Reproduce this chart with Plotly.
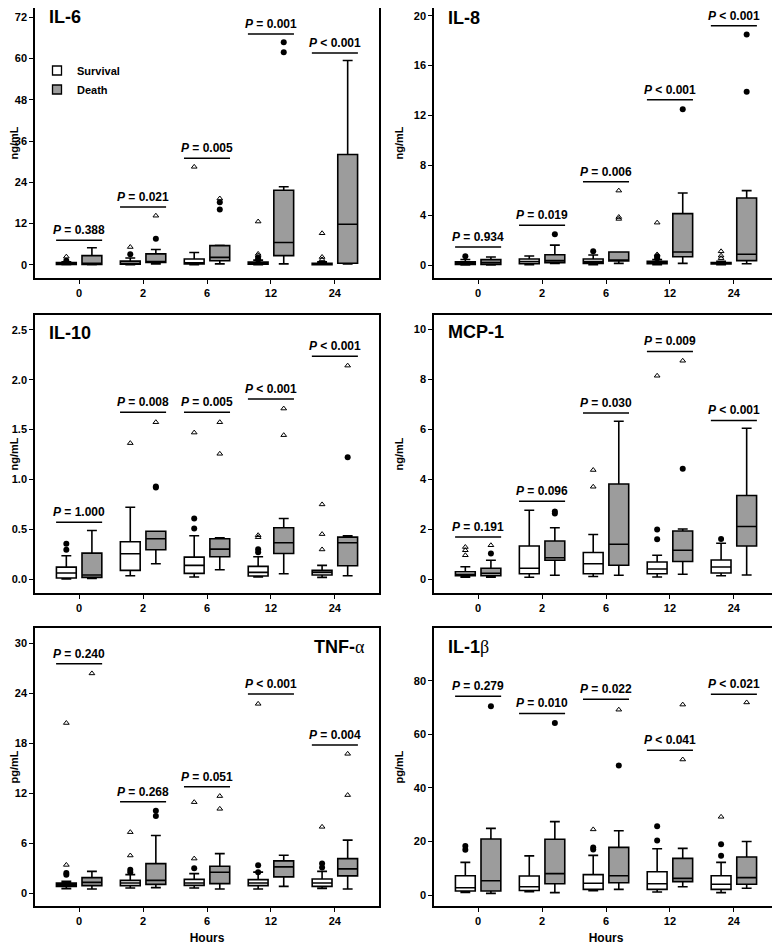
import plotly.graph_objects as go

HOURS = ["0", "2", "6", "12", "24"]

# ---------------- IL-6 (ng/mL) ----------------
IL6_S_LO = [0.05, 0.05, 0.1, 0.1, 0.05]
IL6_S_Q1 = [0.15, 0.2, 0.3, 0.2, 0.1]
IL6_S_MED = [0.35, 0.5, 0.6, 0.45, 0.25]
IL6_S_Q3 = [0.7, 1.1, 1.7, 0.8, 0.5]
IL6_S_HI = [0.9, 2.0, 3.6, 1.4, 0.9]
IL6_D_LO = [0.05, 0.3, 0.3, 0.3, 0.3]
IL6_D_Q1 = [0.15, 0.7, 1.2, 2.7, 0.5]
IL6_D_MED = [0.5, 1.0, 2.2, 6.5, 11.8]
IL6_D_Q3 = [2.7, 3.2, 5.6, 21.7, 32.1]
IL6_D_HI = [5.0, 4.5, 5.7, 22.7, 59.4]
IL6_S_CIRC = [[1.2], [3.1], [], [1.5, 2.0], []]
IL6_S_TRI = [[2.4], [5.2], [28.5], [2.7, 3.2, 12.6], [1.6, 2.3, 9.2]]
IL6_D_CIRC = [[], [7.6], [16.1, 18.2], [61.8, 64.7], []]
IL6_D_TRI = [[], [14.3], [19.3], [], []]
IL6_P_Y = [7.2, 16.8, 31.0, 67.1, 61.6]
IL6_P_TXT = ["= 0.388", "= 0.021", "= 0.005", "= 0.001", "< 0.001"]

# ---------------- IL-8 (ng/mL) ----------------
IL8_S_LO = [0.0, 0.02, 0.02, 0.03, 0.03]
IL8_S_Q1 = [0.05, 0.1, 0.13, 0.1, 0.08]
IL8_S_MED = [0.15, 0.27, 0.27, 0.18, 0.14]
IL8_S_Q3 = [0.25, 0.48, 0.48, 0.3, 0.2]
IL8_S_HI = [0.45, 0.72, 0.8, 0.45, 0.3]
IL8_D_LO = [0.0, 0.12, 0.13, 0.13, 0.1]
IL8_D_Q1 = [0.05, 0.19, 0.32, 0.67, 0.35]
IL8_D_MED = [0.2, 0.35, 0.4, 1.04, 0.86]
IL8_D_Q3 = [0.43, 0.83, 1.04, 4.12, 5.38]
IL8_D_HI = [0.64, 1.6, 1.05, 5.78, 5.97]
IL8_S_CIRC = [[0.7], [], [1.1], [0.55, 0.7], []]
IL8_S_TRI = [[], [], [], [0.85, 3.4], [0.55, 0.75, 1.1]]
IL8_D_CIRC = [[], [2.46], [], [12.5], [13.9, 18.5]]
IL8_D_TRI = [[], [], [3.7, 3.85, 5.97], [], []]
IL8_P_Y = [1.45, 3.19, 6.69, 13.25, 19.2]
IL8_P_TXT = ["= 0.934", "= 0.019", "= 0.006", "< 0.001", "< 0.001"]

# ---------------- IL-10 (ng/mL) ----------------
IL10_S_LO = [0.0, 0.033, 0.02, 0.02, 0.017]
IL10_S_Q1 = [0.01, 0.087, 0.057, 0.03, 0.04]
IL10_S_MED = [0.06, 0.254, 0.137, 0.067, 0.067]
IL10_S_Q3 = [0.12, 0.374, 0.22, 0.127, 0.087]
IL10_S_HI = [0.234, 0.72, 0.434, 0.224, 0.137]
IL10_D_LO = [0.007, 0.154, 0.094, 0.053, 0.033]
IL10_D_Q1 = [0.017, 0.294, 0.224, 0.257, 0.134]
IL10_D_MED = [0.04, 0.404, 0.3, 0.364, 0.364]
IL10_D_Q3 = [0.26, 0.48, 0.404, 0.515, 0.421]
IL10_D_HI = [0.488, 0.48, 0.414, 0.608, 0.434]
IL10_S_CIRC = [[0.294, 0.354], [], [0.508, 0.608], [0.27, 0.3], []]
IL10_S_TRI = [[], [1.364], [1.47], [0.42, 0.44], [0.297, 0.451, 0.749]]
IL10_D_CIRC = [[], [0.92, 0.93], [], [], [1.223]]
IL10_D_TRI = [[], [1.574], [1.257, 1.574], [1.444, 1.711], [2.142]]
IL10_P_Y = [0.571, 1.674, 1.674, 1.808, 2.236]
IL10_P_TXT = ["= 1.000", "= 0.008", "= 0.005", "< 0.001", "< 0.001"]

# ---------------- MCP-1 (ng/mL) ----------------
MCP_S_LO = [0.07, 0.07, 0.1, 0.08, 0.13]
MCP_S_Q1 = [0.13, 0.21, 0.21, 0.21, 0.24]
MCP_S_MED = [0.19, 0.43, 0.61, 0.4, 0.48]
MCP_S_Q3 = [0.29, 1.32, 1.06, 0.68, 0.76]
MCP_S_HI = [0.49, 2.75, 1.78, 0.95, 1.43]
MCP_D_LO = [0.07, 0.15, 0.15, 0.19, 0.16]
MCP_D_Q1 = [0.13, 0.75, 0.55, 0.7, 1.32]
MCP_D_MED = [0.23, 0.85, 1.39, 1.15, 2.1]
MCP_D_Q3 = [0.43, 1.52, 3.8, 1.92, 3.34]
MCP_D_HI = [0.75, 2.05, 6.31, 2.0, 6.03]
MCP_S_CIRC = [[], [], [], [1.59, 1.98], [1.6]]
MCP_S_TRI = [[0.95, 1.15, 1.28], [], [3.69, 4.36], [8.13], []]
MCP_D_CIRC = [[1.02], [2.62, 2.7], [], [4.41], []]
MCP_D_TRI = [[1.35], [], [], [8.73], []]
MCP_P_Y = [1.68, 3.11, 6.64, 9.1, 6.34]
MCP_P_TXT = ["= 0.191", "= 0.096", "= 0.030", "= 0.009", "< 0.001"]

# ---------------- TNF-alpha (pg/mL) ----------------
TNF_S_LO = [0.52, 0.6, 0.6, 0.48, 0.56]
TNF_S_Q1 = [0.8, 0.88, 0.92, 0.88, 0.8]
TNF_S_MED = [1.0, 1.2, 1.2, 1.2, 1.2]
TNF_S_Q3 = [1.2, 1.52, 1.64, 1.6, 1.68]
TNF_S_HI = [1.4, 2.2, 2.33, 2.5, 2.6]
TNF_D_LO = [0.48, 0.64, 0.48, 0.8, 0.48]
TNF_D_Q1 = [0.88, 1.04, 1.12, 1.93, 2.05]
TNF_D_MED = [1.28, 1.52, 2.49, 3.13, 2.89]
TNF_D_Q3 = [1.85, 3.53, 3.21, 3.85, 4.13]
TNF_D_HI = [2.6, 6.9, 4.73, 4.53, 6.34]
TNF_S_CIRC = [[2.2, 2.4], [2.5, 2.8], [2.97], [2.5, 3.33], [3.05, 3.53]]
TNF_S_TRI = [[3.37, 20.4], [4.5, 7.3], [4.13, 10.9], [22.7], [7.94]]
TNF_D_CIRC = [[], [9.23, 9.87], [], [], []]
TNF_D_TRI = [[26.35], [], [10.1, 11.63], [], [11.75, 16.7]]
TNF_P_Y = [27.5, 10.95, 12.76, 23.87, 17.77]
TNF_P_TXT = ["= 0.240", "= 0.268", "= 0.051", "< 0.001", "= 0.004"]

# ---------------- IL-1beta (pg/mL) ----------------
IL1B_S_LO = [1.0, 1.2, 1.6, 1.1, 0.9]
IL1B_S_Q1 = [1.5, 1.7, 2.1, 2.1, 2.1]
IL1B_S_MED = [2.7, 3.1, 4.4, 4.2, 4.0]
IL1B_S_Q3 = [7.2, 7.1, 7.6, 8.7, 7.2]
IL1B_S_HI = [12.2, 14.6, 14.8, 17.3, 12.2]
IL1B_D_LO = [0.6, 0.9, 2.1, 3.1, 2.5]
IL1B_D_Q1 = [1.5, 4.2, 4.6, 5.0, 4.0]
IL1B_D_MED = [5.3, 8.0, 7.2, 6.2, 6.5]
IL1B_D_Q3 = [20.9, 20.8, 17.8, 13.7, 14.2]
IL1B_D_HI = [24.9, 27.4, 24.0, 17.4, 20.0]
IL1B_S_CIRC = [[16.9, 18.3], [], [17.0, 17.7], [20.4, 25.7], [14.7, 19.0]]
IL1B_S_TRI = [[], [], [24.5], [], [29.2]]
IL1B_D_CIRC = [[70.5], [64.2], [48.4], [], []]
IL1B_D_TRI = [[], [], [69.2], [50.6, 71.1], [71.9]]
IL1B_P_Y = [74.25, 67.8, 73.1, 54.1, 75.0]
IL1B_P_TXT = ["= 0.279", "= 0.010", "= 0.022", "< 0.041", "< 0.021"]

# tick values per panel
IL6_TICKS = [0, 12, 24, 36, 48, 60, 72]
IL8_TICKS = [0, 4, 8, 12, 16, 20]
IL10_TICKS = [0.0, 0.5, 1.0, 1.5, 2.0, 2.5]
MCP_TICKS = [0, 2, 4, 6, 8, 10]
TNF_TICKS = [0, 6, 12, 18, 24, 30]
IL1B_TICKS = [0, 20, 40, 60, 80]

FONT = "Liberation Sans, Arial, Helvetica, sans-serif"
GRAY = "#9c9c9c"
OFF = 0.2      # half distance between the two boxes of a time point
BOXW = 0.31

panels = [
    dict(name="IL-6", unit="ng/mL", ticks=IL6_TICKS, rng=[-3.8, 76.4], fmt="",
         s=[IL6_S_LO, IL6_S_Q1, IL6_S_MED, IL6_S_Q3, IL6_S_HI],
         d=[IL6_D_LO, IL6_D_Q1, IL6_D_MED, IL6_D_Q3, IL6_D_HI],
         sc=IL6_S_CIRC, st=IL6_S_TRI, dc=IL6_D_CIRC, dt=IL6_D_TRI,
         py=IL6_P_Y, pt=IL6_P_TXT, dom=([35, 379], [2, 278]), tpos="left", tdy=15),
    dict(name="IL-8", unit="ng/mL", ticks=IL8_TICKS, rng=[-1.04, 21.1], fmt="",
         s=[IL8_S_LO, IL8_S_Q1, IL8_S_MED, IL8_S_Q3, IL8_S_HI],
         d=[IL8_D_LO, IL8_D_Q1, IL8_D_MED, IL8_D_Q3, IL8_D_HI],
         sc=IL8_S_CIRC, st=IL8_S_TRI, dc=IL8_D_CIRC, dt=IL8_D_TRI,
         py=IL8_P_Y, pt=IL8_P_TXT, dom=([434, 778], [2, 278]), tpos="left", tdy=16),
    dict(name="IL-10", unit="ng/mL", ticks=IL10_TICKS, rng=[-0.14, 2.65], fmt=".1f",
         s=[IL10_S_LO, IL10_S_Q1, IL10_S_MED, IL10_S_Q3, IL10_S_HI],
         d=[IL10_D_LO, IL10_D_Q1, IL10_D_MED, IL10_D_Q3, IL10_D_HI],
         sc=IL10_S_CIRC, st=IL10_S_TRI, dc=IL10_D_CIRC, dt=IL10_D_TRI,
         py=IL10_P_Y, pt=IL10_P_TXT, dom=([35, 379], [315, 593]), tpos="left", tdy=18),
    dict(name="MCP-1", unit="ng/mL", ticks=MCP_TICKS, rng=[-0.56, 10.56], fmt="",
         s=[MCP_S_LO, MCP_S_Q1, MCP_S_MED, MCP_S_Q3, MCP_S_HI],
         d=[MCP_D_LO, MCP_D_Q1, MCP_D_MED, MCP_D_Q3, MCP_D_HI],
         sc=MCP_S_CIRC, st=MCP_S_TRI, dc=MCP_D_CIRC, dt=MCP_D_TRI,
         py=MCP_P_Y, pt=MCP_P_TXT, dom=([434, 778], [315, 593]), tpos="left", tdy=17),
    dict(name="TNF-<span style='font-family:Liberation Serif;font-weight:normal'>α</span>",
         unit="pg/mL", ticks=TNF_TICKS, rng=[-1.56, 31.8], fmt="",
         s=[TNF_S_LO, TNF_S_Q1, TNF_S_MED, TNF_S_Q3, TNF_S_HI],
         d=[TNF_D_LO, TNF_D_Q1, TNF_D_MED, TNF_D_Q3, TNF_D_HI],
         sc=TNF_S_CIRC, st=TNF_S_TRI, dc=TNF_D_CIRC, dt=TNF_D_TRI,
         py=TNF_P_Y, pt=TNF_P_TXT, dom=([35, 379], [628, 906]), tpos="right", tdy=19),
    dict(name="IL-1<span style='font-family:Liberation Serif;font-weight:normal'>β</span>",
         unit="pg/mL", ticks=IL1B_TICKS, rng=[-4.1, 99.7], fmt="",
         s=[IL1B_S_LO, IL1B_S_Q1, IL1B_S_MED, IL1B_S_Q3, IL1B_S_HI],
         d=[IL1B_D_LO, IL1B_D_Q1, IL1B_D_MED, IL1B_D_Q3, IL1B_D_HI],
         sc=IL1B_S_CIRC, st=IL1B_S_TRI, dc=IL1B_D_CIRC, dt=IL1B_D_TRI,
         py=IL1B_P_Y, pt=IL1B_P_TXT, dom=([434, 778], [628, 906]), tpos="left", tdy=19),
]

# The page body has an 8px default margin, so the figure is offset by it.
PAGE_OFF = 8
W, H = 780 - PAGE_OFF, 945 - PAGE_OFF
fig = go.Figure()
annotations = []
shapes = []
layout = {}

for k, p in enumerate(panels, start=1):
    xa = "x" if k == 1 else f"x{k}"
    ya = "y" if k == 1 else f"y{k}"
    idx = list(range(len(HOURS)))
    for grp, vals, fill, sgn, circ, tri in (
        ("Survival", p["s"], "white", -1, p["sc"], p["st"]),
        ("Death", p["d"], GRAY, 1, p["dc"], p["dt"]),
    ):
        xs = [i + sgn * OFF for i in idx]
        lo, q1, med, q3, hi = vals
        fig.add_trace(go.Box(
            x=xs, q1=q1, median=med, q3=q3, lowerfence=lo, upperfence=hi,
            width=BOXW, fillcolor=fill, line=dict(color="black", width=1.6),
            whiskerwidth=0.5, boxpoints=False, showlegend=False, name=grp,
            xaxis=xa, yaxis=ya, hoverinfo="skip"))
        cx = [xs[i] for i in idx for _ in circ[i]]
        cy = [v for i in idx for v in circ[i]]
        if cy:
            fig.add_trace(go.Scatter(
                x=cx, y=cy, mode="markers", showlegend=False, xaxis=xa, yaxis=ya,
                marker=dict(symbol="circle", size=6, color="black"), hoverinfo="skip"))
        tx = [xs[i] for i in idx for _ in tri[i]]
        ty = [v for i in idx for v in tri[i]]
        if ty:
            fig.add_trace(go.Scatter(
                x=tx, y=ty, mode="markers", showlegend=False, xaxis=xa, yaxis=ya,
                marker=dict(symbol="triangle-up-open", size=5, color="black",
                            line=dict(width=1)), hoverinfo="skip"))

    (x0, x1), (y0, y1) = p["dom"]
    x0, x1, y0, y1 = x0 - PAGE_OFF, x1 - PAGE_OFF, y0 - PAGE_OFF, y1 - PAGE_OFF
    rlo, rhi = p["rng"]
    if y0 < 0:  # keep the value scale, clip the frame at the page top
        rhi = rlo + (rhi - rlo) * (y1 - 0) / (y1 - y0)
        y0 = 0
    ph = y1 - y0
    axis_common = dict(showline=True, mirror=True, linecolor="black", linewidth=1.5,
                       showgrid=False, zeroline=False, ticks="outside",
                       tickcolor="black", tickwidth=1.2, automargin=False,
                       tickfont=dict(family=FONT, size=11, color="black", weight="bold"))
    xaxis = dict(axis_common, domain=[x0 / W, min(x1 / W, 1)], range=[-0.69, 4.69],
                 tickmode="array", tickvals=idx, ticktext=HOURS, ticklen=4,
                 anchor=ya)
    if k >= 5:
        xaxis["title"] = dict(text="Hours", standoff=18,
                              font=dict(family=FONT, size=12, color="black", weight="bold"))
    yaxis = dict(axis_common, domain=[1 - y1 / H, 1 - y0 / H], range=[rlo, rhi],
                 tickmode="array", tickvals=p["ticks"],
                 ticktext=[format(t, p["fmt"]) if p["fmt"] else str(t) for t in p["ticks"]],
                 ticklen=4, anchor=xa,
                 title=dict(text=p["unit"], standoff=8,
                            font=dict(family=FONT, size=11, color="black", weight="bold")))
    layout["xaxis" if k == 1 else f"xaxis{k}"] = xaxis
    layout["yaxis" if k == 1 else f"yaxis{k}"] = yaxis

    # P-value brackets
    for i in idx:
        shapes.append(dict(type="line", xref=xa, yref=ya, x0=i - 0.36, x1=i + 0.36,
                           y0=p["py"][i], y1=p["py"][i],
                           line=dict(color="black", width=1.5)))
        annotations.append(dict(xref=xa, yref=ya, x=i, y=p["py"][i], yanchor="bottom",
                                yshift=1, showarrow=False,
                                text=f"<i>P</i> {p['pt'][i]}",
                                font=dict(family=FONT, size=12, color="black", weight="bold")))
    ty_px = (p["dom"][1][0] - PAGE_OFF + p["tdy"]) - y0
    if p["tpos"] == "left":
        annotations.append(dict(xref=f"{xa} domain", yref=f"{ya} domain", x=0.035,
                                y=1 - ty_px / ph, xanchor="left", yanchor="middle",
                                showarrow=False, text=p["name"],
                                font=dict(family=FONT, size=18, color="black", weight="bold")))
    else:
        annotations.append(dict(xref=f"{xa} domain", yref=f"{ya} domain", x=0.965,
                                y=1 - ty_px / ph, xanchor="right", yanchor="middle",
                                showarrow=False, text=p["name"],
                                font=dict(family=FONT, size=18, color="black", weight="bold")))

# legend entries
fig.add_trace(go.Scatter(x=[None], y=[None], mode="markers", name="Survival",
                         marker=dict(symbol="square", size=9, color="white",
                                     line=dict(color="black", width=1.3))))
fig.add_trace(go.Scatter(x=[None], y=[None], mode="markers", name="Death",
                         marker=dict(symbol="square", size=9, color=GRAY,
                                     line=dict(color="black", width=1.3))))

fig.update_layout(
    width=W, height=H, margin=dict(l=0, r=0, t=0, b=0),
    paper_bgcolor="white", plot_bgcolor="white",
    font=dict(family=FONT, size=11, color="black"),
    showlegend=True,
    legend=dict(x=29 / W, y=1 - 48 / H, xanchor="left", yanchor="top",
                bgcolor="rgba(0,0,0,0)", borderwidth=0, tracegroupgap=0,
                font=dict(family=FONT, size=11, color="black", weight="bold")),
    annotations=annotations, shapes=shapes,
    **layout,
)

fig.write_html("out.html")
